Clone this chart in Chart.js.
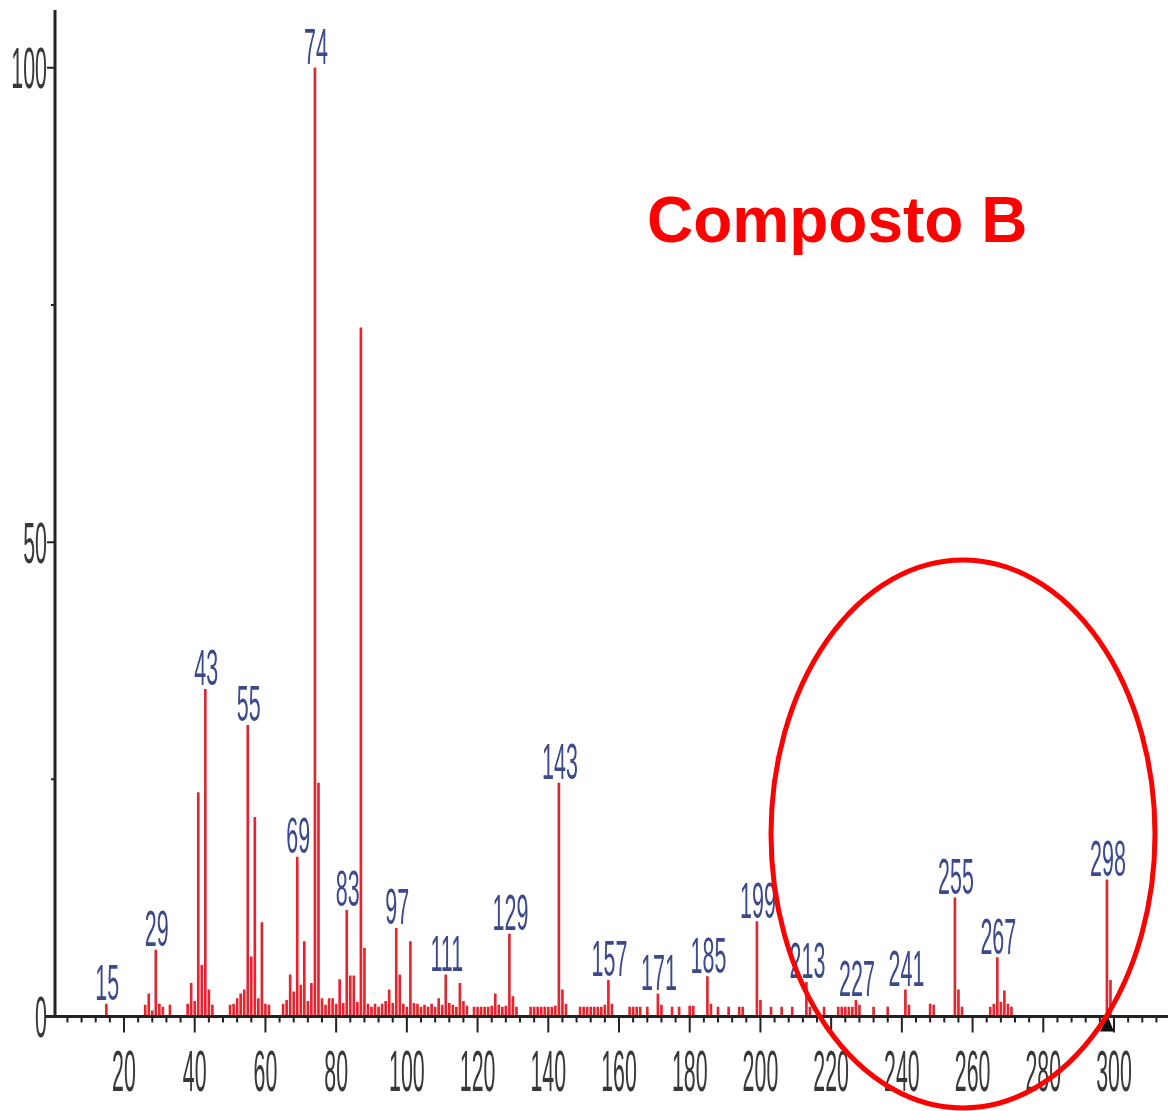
<!DOCTYPE html>
<html><head><meta charset="utf-8">
<script src="https://cdn.jsdelivr.net/npm/chart.js@4.4.1/dist/chart.umd.min.js"></script>
<style>html,body{margin:0;padding:0;background:#fff;overflow:hidden}canvas{display:block}</style>
</head><body>
<canvas id="c" width="1168" height="1111"></canvas>
<script>
// m/z values of each stick
const masses = [15,26,27,28,29,30,31,33,38,39,40,41,42,43,44,45,50,51,52,53,54,55,56,57,58,59,60,61,65,66,67,68,69,70,71,72,73,74,75,76,77,78,79,80,81,82,83,84,85,86,87,88,89,90,91,92,93,94,95,96,97,98,99,100,101,102,103,104,105,106,107,108,109,110,111,112,113,114,115,116,117,119,120,121,122,123,124,125,126,127,128,129,130,131,135,136,137,138,139,140,141,142,143,144,145,149,150,151,152,153,154,155,156,157,158,163,164,165,166,168,171,172,175,177,180,181,185,186,188,191,194,195,199,200,203,206,209,213,214,218,222,223,224,225,226,227,228,232,236,241,242,248,249,255,256,257,265,266,267,268,269,270,271,298,299];
// relative abundance (%)
const intensities = [1.3,1.2,2.4,0.6,7.0,1.3,1.0,1.2,1.3,3.5,1.6,23.6,5.4,34.5,2.8,1.2,1.2,1.3,1.9,2.4,2.8,30.7,6.3,21.0,1.9,9.9,1.3,1.2,1.3,1.7,4.4,2.6,16.8,3.3,7.9,1.6,3.5,100,24.6,1.9,1.2,1.9,1.9,1.3,3.9,1.4,11.2,4.3,4.3,1.5,72.6,7.2,1.3,1.0,1.3,1.0,1.3,1.6,2.8,1.4,9.3,4.4,1.3,1.0,7.9,1.4,1.3,1.0,1.2,1.0,1.3,1.0,1.9,1.2,4.4,1.4,1.2,1.0,3.5,1.6,1.1,1.0,1.0,1.0,1.0,1.0,1.1,2.4,1.2,1.0,1.1,8.7,2.1,1.0,1.0,1.0,1.0,1.0,1.0,1.0,1.0,1.1,24.6,2.8,1.3,1.0,1.0,1.0,1.0,1.0,1.0,1.0,1.2,3.8,1.3,1.0,1.0,1.0,1.0,1.0,2.4,1.2,1.0,1.0,1.1,1.1,4.2,1.3,1.0,1.0,1.0,1.0,10.0,1.7,1.0,1.0,1.0,3.6,1.0,1.0,1.0,1.0,1.0,1.0,1.0,1.7,1.2,1.0,1.0,2.8,1.2,1.3,1.2,12.5,2.8,1.0,1.0,1.3,6.2,1.5,2.7,1.3,1.0,14.4,3.8];
// peaks annotated with their m/z
const labeledPeaks = [15,29,43,55,69,74,83,97,111,129,143,157,171,185,199,213,227,241,255,267,298];
const xTickLabels = [20,40,60,80,100,120,140,160,180,200,220,240,260,280,300];
const yTickLabels = [0,50,100];
const yMinorTicks = [25,75];
const titleText = 'Composto B';

function stretchedText(ctx, text, x, yBase, size, sx, align, color, weight) {
  ctx.save();
  ctx.translate(x, yBase);
  ctx.scale(sx, 1);
  ctx.font = (weight || 'normal') + ' ' + size + 'px "Liberation Sans", Arial, sans-serif';
  ctx.textAlign = align;
  ctx.textBaseline = 'alphabetic';
  ctx.fillStyle = color;
  ctx.fillText(text, 0, 0);
  ctx.restore();
}

const decor = {
  id: 'decor',
  afterDraw(chart) {
    const ctx = chart.ctx;
    const xs = chart.scales.x, ys = chart.scales.y;
    const y0 = ys.getPixelForValue(0);
    const xl = chart.chartArea.left;
    ctx.save();
    // axis lines
    ctx.strokeStyle = '#222';
    ctx.lineWidth = 3;
    ctx.beginPath();
    ctx.moveTo(46, y0); ctx.lineTo(chart.width, y0);
    ctx.moveTo(xl, ys.getPixelForValue(ys.max)); ctx.lineTo(xl, y0 + 1.5);
    ctx.stroke();
    // x ticks
    ctx.lineWidth = 2;
    ctx.beginPath();
    for (let v = 4; v <= xs.max; v += 4) {
      const px = xs.getPixelForValue(v);
      const major = v % 20 === 0;
      ctx.moveTo(px, y0); ctx.lineTo(px, y0 + (major ? 16 : 6));
    }
    // y ticks
    yTickLabels.forEach(v => { const py = ys.getPixelForValue(v); ctx.moveTo(xl, py); ctx.lineTo(xl - 8, py); });
    yMinorTicks.forEach(v => { const py = ys.getPixelForValue(v); ctx.moveTo(xl, py); ctx.lineTo(xl - 4, py); });
    ctx.stroke();
    // tick labels
    xTickLabels.forEach(v => stretchedText(ctx, String(v), xs.getPixelForValue(v), 1091, 57, 0.375, 'center', '#383838'));
    yTickLabels.forEach(v => stretchedText(ctx, String(v), xl - 8, ys.getPixelForValue(v) + 20.5, 57, 0.375, 'right', '#383838'));
    // peak labels
    labeledPeaks.forEach(m => {
      const i = masses.indexOf(m);
      const top = ys.getPixelForValue(intensities[i]);
      stretchedText(ctx, String(m), xs.getPixelForValue(m) + 1, top - 4, 50, 0.43, 'center', '#3c4a8c');
    });
    // precursor marker
    const pm = xs.getPixelForValue(298);
    ctx.fillStyle = '#111';
    ctx.beginPath();
    ctx.moveTo(pm - 7, y0 + 15); ctx.lineTo(pm + 7, y0 + 15); ctx.lineTo(pm + 1, y0);
    ctx.closePath(); ctx.fill();
    // title
    ctx.font = 'bold 64px "Liberation Sans", Arial, sans-serif';
    ctx.fillStyle = '#ff0000';
    ctx.textAlign = 'left';
    ctx.textBaseline = 'alphabetic';
    ctx.fillText(titleText, 647, 242);
    // highlight ellipse
    ctx.strokeStyle = '#ff0000';
    ctx.lineWidth = 5;
    ctx.beginPath();
    ctx.ellipse(963, 834, 192, 274, 0, 0, Math.PI * 2);
    ctx.stroke();
    ctx.restore();
  }
};

new Chart(document.getElementById('c'), {
  type: 'bar',
  data: {
    datasets: [{
      data: masses.map((m, i) => ({ x: m, y: intensities[i] })),
      backgroundColor: '#e3262d',
      borderWidth: 0,
      barThickness: 2
    }]
  },
  options: {
    responsive: false,
    animation: false,
    devicePixelRatio: 1,
    layout: { padding: { left: 55, top: 10, right: 0, bottom: 94.5 } },
    plugins: { legend: { display: false }, tooltip: { enabled: false } },
    scales: {
      x: { type: 'linear', min: 0.485, max: 315.27, display: false, offset: false },
      y: { min: 0, max: 106.1, display: false }
    }
  },
  plugins: [decor]
});
</script>
</body></html>
